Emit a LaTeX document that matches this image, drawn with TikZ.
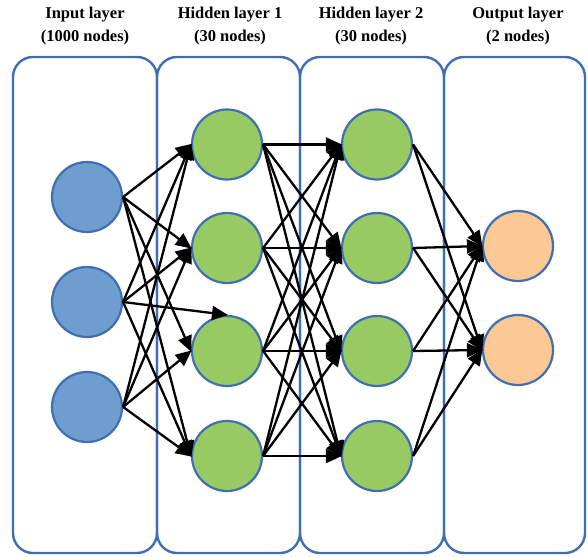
\documentclass[tikz,border=0pt]{standalone}
\usepackage{fontspec}
\setmainfont{Liberation Serif}
\usetikzlibrary{arrows.meta}
\definecolor{outlineblue}{HTML}{3F6FB2}
\definecolor{inputfill}{HTML}{6F9DCF}
\definecolor{hiddenfill}{HTML}{98CA64}
\definecolor{outputfill}{HTML}{FCC894}
\tikzset{
  layerbox/.style={draw=outlineblue, line width=2.4pt, rounded corners=20pt, minimum width=144pt, minimum height=496pt, inner sep=0pt},
  neuron/.style={circle, draw=outlineblue, line width=2.2pt, minimum size=70pt, inner sep=0pt},
  header/.style={align=center, font=\bfseries\fontsize{16.5}{23}\selectfont},
  conn/.style={draw=black, line width=2.3pt, -{Triangle[length=16pt,width=14pt]}, shorten >=-1pt}
}
\begin{document}
\begin{tikzpicture}[x=1pt,y=-1pt]
\useasboundingbox (0,0) rectangle (588,556);
% layer boxes
\node[layerbox] (b1) at (85,305) {};
\node[layerbox, minimum width=143pt] (b2) at (228.5,305) {};
\node[layerbox] (b3) at (372,305) {};
\node[layerbox, minimum width=141pt] (b4) at (514.5,305) {};
% headers
\node[header] (t1) at (85,26) {Input layer\\(1000 nodes)};
\node[header] (t2) at (230,26) {Hidden layer 1\\(30 nodes)};
\node[header] (t3) at (371,26) {Hidden layer 2\\(30 nodes)};
\node[header] (t4) at (518,26) {Output layer\\(2 nodes)};
% neurons
\node[neuron, fill=inputfill] (i1) at (87,197) {};
\node[neuron, fill=inputfill] (i2) at (87,302) {};
\node[neuron, fill=inputfill] (i3) at (87,407) {};
\foreach \k/\y in {1/144.5,2/248,3/351,4/456}{
  \node[neuron, fill=hiddenfill] (h\k) at (227,\y) {};
  \node[neuron, fill=hiddenfill] (g\k) at (377,\y) {};
}
\node[neuron, fill=outputfill] (o1) at (518,246) {};
\node[neuron, fill=outputfill] (o2) at (518,350) {};
% connections input -> hidden 1
\foreach \a/\b in {1/1,1/2,1/3,1/4,2/1,2/2,2/4,3/1,3/2,3/3,3/4}{
  \draw[conn] (i\a.east) -- (h\b.west);
}
\draw[conn] (i2.east) -- (h3.north);
% hidden 1 -> hidden 2
\foreach \a in {1,2,3,4}{
  \foreach \b in {1,2,3,4}{
    \draw[conn] (h\a.east) -- (g\b.west);
  }
}
% hidden 2 -> output
\foreach \a in {1,2,3,4}{
  \foreach \b in {1,2}{
    \draw[conn] (g\a.east) -- (o\b.west);
  }
}
\end{tikzpicture}
\end{document}
